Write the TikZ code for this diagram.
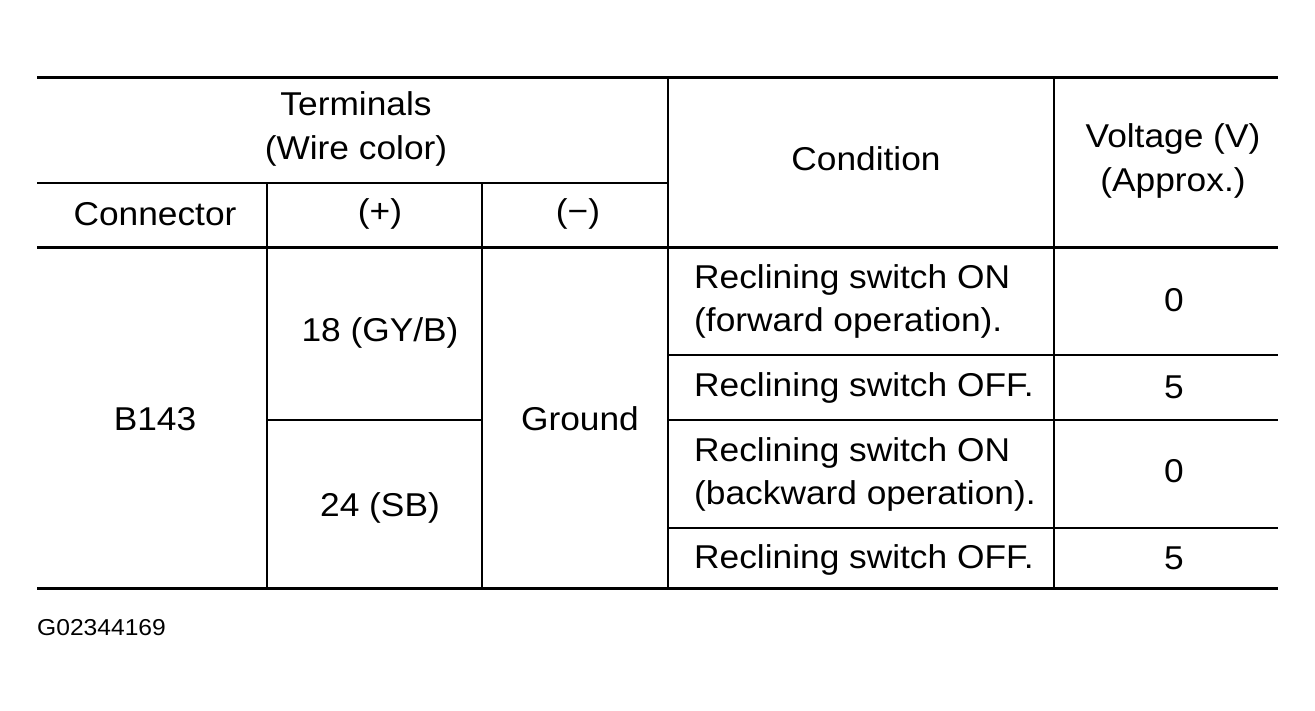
\documentclass[tikz,border=0pt]{standalone}
\usepackage{fontspec}
\setmainfont[FakeStretch=1.07]{Liberation Sans}
\begin{document}
\begin{tikzpicture}[x=1pt,y=-1pt,
  thin rule/.style={line width=1.4pt},
  thick rule/.style={line width=3pt},
  cell/.style={inner sep=0pt,font=\fontsize{33}{44}\selectfont,align=center},
  lcell/.style={inner sep=0pt,font=\fontsize{33}{43}\selectfont,align=left,anchor=west},
  code/.style={inner sep=0pt,font=\fontsize{23}{26}\selectfont,anchor=west}]
\useasboundingbox (0,0) rectangle (1315,710);
\fill[white] (0,0) rectangle (1315,710);
% rules
\draw[thick rule] (37,77) -- (1278,77);
\draw[thin rule] (37,183) -- (668,183);
\draw[thick rule] (37,247) -- (1278,247);
\draw[thick rule] (37,588) -- (1278,588);
\draw[thin rule] (267,183) -- (267,588);
\draw[thin rule] (482,183) -- (482,588);
\draw[thin rule] (668,77) -- (668,588);
\draw[thin rule] (1054,77) -- (1054,588);
\draw[thin rule] (668,355) -- (1278,355);
\draw[thin rule] (668,420) -- (1278,420);
\draw[thin rule] (668,528) -- (1278,528);
\draw[thin rule] (267,420) -- (482,420);
% header
\node[cell] (term) at (356,129) {Terminals\\(Wire color)};
\node[cell] (conn) at (155,214) {Connector};
\node[cell] (plus) at (380,214) {(+)};
\node[cell] (minus) at (578,214) {(−)};
\node[cell] (cond) at (866,159) {Condition};
\node[cell] (volt) at (1173,161) {Voltage (V)\\(Approx.)};
% body
\node[cell] (b143) at (155,419) {B143};
\node[cell] (p18) at (380,333) {18 (GY/B)};
\node[cell] (p24) at (380,508) {24 (SB)};
\node[cell] (gnd) at (580,419) {Ground};
\node[lcell] (c1) at (694,301) {Reclining switch ON\\(forward operation).};
\node[cell] (v1) at (1174,300) {0};
\node[lcell] (c2) at (694,388) {Reclining switch OFF.};
\node[cell] (v2) at (1174,387) {5};
\node[lcell] (c3) at (694,474) {Reclining switch ON\\(backward operation).};
\node[cell] (v3) at (1174,471) {0};
\node[lcell] (c4) at (694,560) {Reclining switch OFF.};
\node[cell] (v4) at (1174,558) {5};
\node[code] (id) at (37,628) {G02344169};
\end{tikzpicture}
\end{document}
